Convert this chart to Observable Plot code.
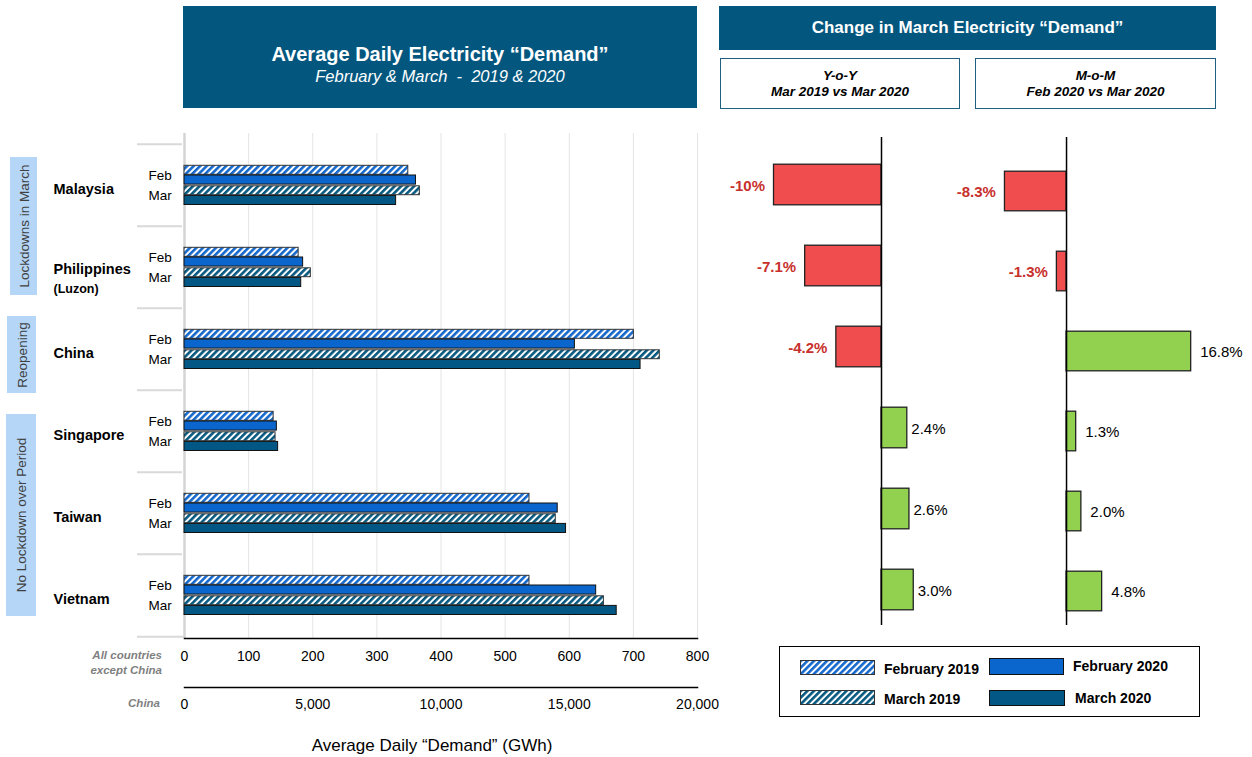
<!DOCTYPE html>
<html>
<head>
<meta charset="utf-8">
<script src="https://cdn.jsdelivr.net/npm/d3@7"></script>
<script src="https://cdn.jsdelivr.net/npm/@observablehq/plot@0.6"></script>
<style>
  html, body { margin: 0; padding: 0; background: #fff; }
  body { font-family: "Liberation Sans", Arial, sans-serif; }
  #root { position: relative; width: 1252px; height: 757px; overflow: hidden; background: #fff; }
  #root svg.plotsvg { position: absolute; }
  .abs { position: absolute; z-index: 5; }
  .hdr { background: #03577f; color: #fff; text-align: center; }
  .sub { background: #fff; border: 1.5px solid #1f5f80; box-sizing: border-box; text-align: center;
         font-style: italic; font-weight: bold; font-size: 13.5px; color: #000; }
  .grp { background: #b5d6f7; color: #404040; font-size: 13.5px; }
  .grp span { position: absolute; left: 50%; top: 50%; transform: translate(-50%, -50%) rotate(-90deg); white-space: nowrap; }
  .gray { color: #7f7f7f; font-style: italic; font-weight: bold; font-size: 11.5px; text-align: right; line-height: 15px; }
  .leg { font-weight: bold; font-size: 14px; color: #000; white-space: nowrap; line-height: 16px; }
</style>
</head>
<body>
<svg width="0" height="0" style="position:absolute">
  <defs>
    <pattern id="hatchFeb19" width="4.6" height="4.6" patternUnits="userSpaceOnUse" patternTransform="rotate(45)">
      <rect width="4.6" height="4.6" fill="#ffffff"></rect>
      <rect width="2.6" height="4.6" fill="#1468cc"></rect>
    </pattern>
    <pattern id="hatchMar19" width="4.6" height="4.6" patternUnits="userSpaceOnUse" patternTransform="rotate(45)">
      <rect width="4.6" height="4.6" fill="#ffffff"></rect>
      <rect width="2.6" height="4.6" fill="#055880"></rect>
    </pattern>
  </defs>
</svg>
<div id="root">
  <div class="abs hdr" style="left:183px;top:6px;width:514px;height:102px;">
    <div style="position:absolute;left:0;right:0;top:36px;font-size:20px;font-weight:bold;line-height:24px;">Average Daily Electricity “Demand”</div>
    <div style="position:absolute;left:0;right:0;top:60px;font-size:16.5px;font-style:italic;line-height:20px;">February &amp; March&nbsp; - &nbsp;2019 &amp; 2020</div>
  </div>
  <div class="abs hdr" style="left:719px;top:6px;width:497px;height:44px;line-height:44px;font-size:17px;font-weight:bold;">Change in March Electricity “Demand”</div>
  <div class="abs sub" style="left:720px;top:58px;width:240px;height:51px;">
    <div style="position:absolute;left:0;right:0;top:9px;line-height:16px;">Y-o-Y</div>
    <div style="position:absolute;left:0;right:0;top:25px;line-height:16px;">Mar 2019 vs Mar 2020</div>
  </div>
  <div class="abs sub" style="left:975px;top:58px;width:241px;height:51px;">
    <div style="position:absolute;left:0;right:0;top:9px;line-height:16px;">M-o-M</div>
    <div style="position:absolute;left:0;right:0;top:25px;line-height:16px;">Feb 2020 vs Mar 2020</div>
  </div>

  <div class="abs grp" style="left:10px;top:157px;width:27px;height:138px;"><span>Lockdowns in March</span></div>
  <div class="abs grp" style="left:7px;top:316px;width:29px;height:77px;"><span>Reopening</span></div>
  <div class="abs grp" style="left:6px;top:414px;width:30px;height:202px;"><span>No Lockdown over Period</span></div>

  <div class="abs gray" style="left:40px;top:648px;width:122px;">All countries<br>except China</div>
  <div class="abs gray" style="left:40px;top:696px;width:120px;">China</div>
  <div class="abs" style="left:232px;top:735px;width:400px;text-align:center;font-size:17px;line-height:22px;color:#000;">Average Daily “Demand” (GWh)</div>

  <div class="abs" id="legend" style="left:779px;top:646px;width:421px;height:71px;border:1.5px solid #000;box-sizing:border-box;background:#fff;"></div>
</div>
<script>
// ---------------- data ----------------
const countries = ["Malaysia", "Philippines", "China", "Singapore", "Taiwan", "Vietnam"];
const countrySubLabels = ["", "(Luzon)", "", "", "", ""];
const seriesNames = ["February 2019", "February 2020", "March 2019", "March 2020"];
// Average daily demand, GWh (China in its own units, read on its 0–20,000 axis)
const feb2019 = [349, 178, 17520, 139, 538, 538];
const feb2020 = [361, 185, 15220, 144, 582, 642];
const mar2019 = [367, 197, 18530, 142, 579, 654];
const mar2020 = [330, 182, 17780, 146, 595, 674];
// Change in March demand, %
const yoyChange = [-10, -7.1, -4.2, 2.4, 2.6, 3.0];
const yoyLabels = ["-10%", "-7.1%", "-4.2%", "2.4%", "2.6%", "3.0%"];
const momChange = [-8.3, -1.3, 16.8, 1.3, 2.0, 4.8];
const momLabels = ["-8.3%", "-1.3%", "16.8%", "1.3%", "2.0%", "4.8%"];
// axis ticks
const mainTicks = [0, 100, 200, 300, 400, 500, 600, 700, 800];
const chinaTicks = [0, 5000, 10000, 15000, 20000];
const chinaScaleFactor = 25; // China axis 0–20,000 shares the 0–800 axis

// ---------------- styles ----------------
const FONT = '"Liberation Sans", Arial, sans-serif';
const seriesStyle = {
  "February 2019": {fill: "url(#hatchFeb19)", stroke: "#333", insetTop: 21.3, insetBottom: 51.7},
  "February 2020": {fill: "#0a66cc", stroke: "#111", insetTop: 31, insetBottom: 41.9},
  "March 2019":    {fill: "url(#hatchMar19)", stroke: "#333", insetTop: 41.8, insetBottom: 31.3},
  "March 2020":    {fill: "#035784", stroke: "#111", insetTop: 51.4, insetBottom: 21.5}
};
const seriesValues = [feb2019, feb2020, mar2019, mar2020];
const rows = countries.flatMap((c, i) => seriesNames.map((s, k) => ({country: c, series: s, value: seriesValues[k][i]})));
const axisValue = d => d.country === "China" ? d.value / chinaScaleFactor : d.value;

const root = document.getElementById("root");
function place(svg, left, top) {
  svg.classList.add("plotsvg");
  svg.style.left = left + "px";
  svg.style.top = top + "px";
  svg.style.background = "transparent";
  svg.style.maxWidth = "none";
  svg.style.overflow = "visible";
  root.appendChild(svg);
}

// ---------------- main chart ----------------
const main = Plot.plot({
  width: 720, height: 757,
  marginLeft: 184, marginRight: 23, marginTop: 133, marginBottom: 119,
  style: {fontFamily: FONT, fontSize: "14px", color: "#000", background: "transparent"},
  x: {domain: [0, 800]},
  y: {domain: countries, padding: 0, insetTop: 9, axis: null},
  marks: [
    Plot.gridX(mainTicks.slice(1), {stroke: "#e4e4e4", strokeOpacity: 1, strokeWidth: 1}),
    Plot.ruleX([0], {stroke: "#d4d4d4", strokeWidth: 2.5}),
    Plot.ruleY(countries, {y: d => d, dy: -41.33, insetLeft: -47, insetRight: 515, stroke: "#d9d9d9", strokeWidth: 2}),
    Plot.ruleY(countries.slice(-1), {y: d => d, dy: 41.33, insetLeft: -47, insetRight: 513, stroke: "#d9d9d9", strokeWidth: 2}),
    ...seriesNames.map(s => Plot.barX(rows.filter(d => d.series === s), {
      x: axisValue, y: "country", fill: seriesStyle[s].fill, stroke: seriesStyle[s].stroke, strokeWidth: 1,
      insetTop: seriesStyle[s].insetTop, insetBottom: seriesStyle[s].insetBottom
    })),
    Plot.text(countries, {y: d => d, text: () => "Feb", frameAnchor: "left", dx: -36, dy: -10.3, textAnchor: "start", fontSize: 13.5}),
    Plot.text(countries, {y: d => d, text: () => "Mar", frameAnchor: "left", dx: -36, dy: 9.7, textAnchor: "start", fontSize: 13.5}),
    Plot.text(countries.filter((c, i) => !countrySubLabels[i]), {y: d => d, text: d => d, frameAnchor: "left", dx: -131, dy: 3.5, textAnchor: "start", fontSize: 14.5, fontWeight: "bold"}),
    Plot.text(countries.filter((c, i) => countrySubLabels[i]), {y: d => d, text: d => d, frameAnchor: "left", dx: -131, dy: 2, textAnchor: "start", fontSize: 14.5, fontWeight: "bold"}),
    Plot.text(countries.filter((c, i) => countrySubLabels[i]), {y: d => d, text: d => countrySubLabels[countries.indexOf(d)], frameAnchor: "left", dx: -131, dy: 21, textAnchor: "start", fontSize: 12.5, fontWeight: "bold"}),
    Plot.frame({anchor: "bottom", stroke: "#000", strokeWidth: 1.5}),
    Plot.axisX({ticks: mainTicks, tickSize: 0, tickPadding: 13, label: null, fontSize: 14})
  ]
});
place(main, 0, 0);

// China axis
const chinaAxis = Plot.plot({
  width: 720, height: 50,
  marginLeft: 184, marginRight: 23, marginTop: 7, marginBottom: 42,
  style: {fontFamily: FONT, fontSize: "14px", color: "#000", background: "transparent"},
  x: {domain: [0, 20000]},
  marks: [
    Plot.frame({anchor: "top", stroke: "#000", strokeWidth: 1.5}),
    Plot.axisX({ticks: chinaTicks, tickFormat: d3.format(","), tickSize: 0, tickPadding: 11, label: null, fontSize: 14})
  ]
});
place(chinaAxis, 0, 680);

// ---------------- change panels ----------------
function changePanel(values, labels, opts) {
  const data = countries.map((c, i) => ({country: c, value: values[i], label: labels[i]}));
  return Plot.plot({
    width: opts.width, height: 757,
    marginLeft: opts.marginLeft, marginRight: opts.marginRight, marginTop: opts.marginTop, marginBottom: opts.marginBottom,
    style: {fontFamily: FONT, fontSize: "15px", color: "#000", background: "transparent"},
    x: {domain: opts.domain, axis: null},
    y: {domain: countries, padding: 0, axis: null},
    marks: [
      Plot.barX(data, {x: "value", y: "country", fill: d => d.value < 0 ? "#f04e4e" : "#92d050", stroke: "#222", strokeWidth: 1.3, insetTop: 20.2, insetBottom: 20.2}),
      Plot.ruleX([0], {stroke: "#000", strokeWidth: 1.5, insetTop: opts.ruleTop, insetBottom: opts.ruleBottom}),
      Plot.text(data.filter(d => d.value < 0), {x: "value", y: "country", text: "label", dx: -9, dy: 1, textAnchor: "end", fill: "#c8302c", fontWeight: "bold", fontSize: 15}),
      Plot.text(data.filter(d => d.value >= 0), {x: "value", y: "country", text: "label", dx: opts.posDx, dy: 1, textAnchor: "start", fill: "#000", fontSize: 15})
    ]
  });
}
place(changePanel(yoyChange, yoyLabels, {width: 280, domain: [-14, 7], marginLeft: 30.5, marginRight: 23.75, marginTop: 143, marginBottom: 126.5, ruleTop: -6, ruleBottom: 5.5, posDx: 4}), 700, 0);
place(changePanel(momChange, momLabels, {width: 312, domain: [-12, 19], marginLeft: 37, marginRight: 45, marginTop: 148, marginBottom: 123.5, ruleTop: -11, ruleBottom: 8.5, posDx: 9}), 940, 0);

// ---------------- legend ----------------
const legendItems = [
  {name: "February 2019", sx: 20, sy: 13, sw: 75, sh: 15, tx: 104, ty: 20},
  {name: "February 2020", sx: 209, sy: 11, sw: 75, sh: 17, tx: 293, ty: 17},
  {name: "March 2019",    sx: 20, sy: 43, sw: 75, sh: 15, tx: 104, ty: 50},
  {name: "March 2020",    sx: 209, sy: 43, sw: 76, sh: 16, tx: 295, ty: 49}
];
const legend = document.getElementById("legend");
legendItems.forEach(it => {
  const st = seriesStyle[it.name];
  const sw = d3.create("svg").attr("width", it.sw).attr("height", it.sh)
    .style("position", "absolute").style("left", it.sx + "px").style("top", it.sy + "px");
  sw.append("rect").attr("x", 0.5).attr("y", 0.5).attr("width", it.sw - 1).attr("height", it.sh - 1)
    .attr("fill", st.fill).attr("stroke", st.stroke).attr("stroke-width", 1);
  legend.appendChild(sw.node());
  const t = document.createElement("div");
  t.className = "leg";
  t.style.position = "absolute";
  t.style.left = it.tx + "px";
  t.style.top = (it.ty - 6) + "px";
  t.textContent = it.name;
  legend.appendChild(t);
});
</script>
</body>
</html>
